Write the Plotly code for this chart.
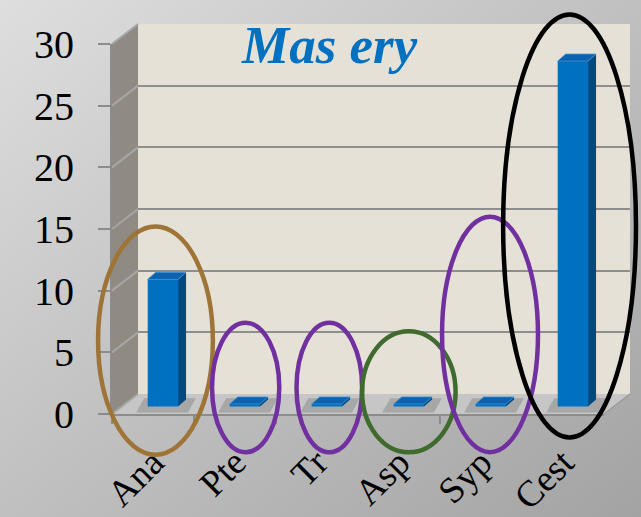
import base64
import plotly.graph_objects as go

# ---- data -------------------------------------------------------------
categories = ["Ana", "Pte", "Tr", "Asp", "Syp", "Cest"]
values = [10.3, 0.2, 0.2, 0.2, 0.2, 28.0]
y_ticks = [0, 5, 10, 15, 20, 25, 30]
title_text = "Mas ery"

# hand-drawn rings: (category index, half width in categories, top value, bottom value, colour)
rings = [
    (0.03, 0.70, 15.2, -3.3, "#9e7437"),
    (1.13, 0.41, 7.4, -3.1, "#7030a0"),
    (2.15, 0.40, 7.4, -3.1, "#7030a0"),
    (3.12, 0.57, 6.7, -3.1, "#3f6b2f"),
    (4.11, 0.585, 16.0, -3.1, "#7030a0"),
    (5.08, 0.81, 32.4, -1.9, "#000000"),
]

# ---- geometry (pixels) ------------------------------------------------
W, H = 641, 517
FX0, FX1 = 112, 604          # front edge of the floor
FY0, FY1 = 414, 44           # pixel rows of 0 and 30 on the front plane
YMAX = 30
DX, DY = 26, 20              # depth of the box (right, up)
BAR_F = 0.38                 # bars stand this far into the box
BAR_W = 0.37                 # bar width in categories
FACE_DX, FACE_DY = 8, 7      # depth of each bar (pixels)

n = len(categories)
step = (FX1 - FX0) / n
ppu = (FY0 - FY1) / YMAX


def px(x):
    return x / W


def py(y):
    return (H - y) / H


def cat_px(t, depth=0.0):
    return FX0 + (t + 0.5) * step + depth * DX


def val_py(v, depth=0.0):
    return FY0 - v * ppu - depth * DY


def poly(points):
    return "M " + " L ".join(f"{a},{b}" for a, b in points) + " Z"


# ---- background gradient ---------------------------------------------
svg = (
    f'<svg xmlns="http://www.w3.org/2000/svg" width="{W}" height="{H}">'
    '<defs><linearGradient id="g" x1="0" y1="0" x2="1" y2="1">'
    '<stop offset="0" stop-color="#dedede"/>'
    '<stop offset="0.5" stop-color="#c0c0c0"/>'
    '<stop offset="1" stop-color="#a3a3a3"/>'
    '</linearGradient></defs>'
    f'<rect width="{W}" height="{H}" fill="url(#g)"/></svg>'
)
bg_src = "data:image/svg+xml;base64," + base64.b64encode(svg.encode()).decode()

fig = go.Figure()

# front plane: carries the axis labels
fig.add_trace(go.Scatter(
    x=categories, y=values, mode="markers", marker=dict(opacity=0),
    hoverinfo="skip", showlegend=False, xaxis="x", yaxis="y"))
# back wall: carries the gridlines
fig.add_trace(go.Scatter(
    x=[0], y=[0], mode="markers", marker=dict(opacity=0),
    hoverinfo="skip", showlegend=False, xaxis="x2", yaxis="y2"))
# bars
bar_x = list(range(n))
fig.add_trace(go.Bar(
    x=bar_x, y=values, width=BAR_W, xaxis="x3", yaxis="y3",
    marker=dict(color="#0070c0", line=dict(width=0)),
    showlegend=False, hoverinfo="skip"))

shapes = []

# back wall
shapes.append(dict(
    type="rect", xref="paper", yref="paper", layer="below",
    x0=px(FX0 + DX), x1=px(FX1 + DX), y0=py(FY0 - DY), y1=py(FY1 - DY),
    fillcolor="#e6e1d7", line=dict(width=0)))
# left wall
shapes.append(dict(
    type="path", xref="paper", yref="paper", layer="below",
    path=poly([(px(FX0), py(FY0)), (px(FX0), py(FY1)),
               (px(FX0 + DX), py(FY1 - DY)), (px(FX0 + DX), py(FY0 - DY))]),
    fillcolor="#8f8b82", line=dict(width=0)))
# floor
shapes.append(dict(
    type="path", xref="paper", yref="paper", layer="below",
    path=poly([(px(FX0), py(FY0)), (px(FX1), py(FY0)),
               (px(FX1 + DX), py(FY0 - DY)), (px(FX0 + DX), py(FY0 - DY))]),
    fillcolor="#c6c6c6", line=dict(width=0)))
shapes.append(dict(
    type="line", xref="paper", yref="paper", layer="below",
    x0=px(FX1), y0=py(FY0), x1=px(FX1 + DX), y1=py(FY0 - DY),
    line=dict(color="#9a9a9a", width=1.5)))
# gridlines running across the left wall
for v in y_ticks:
    shapes.append(dict(
        type="line", xref="paper", yref="paper", layer="below",
        x0=px(FX0), y0=py(val_py(v)), x1=px(FX0 + DX), y1=py(val_py(v, 1)),
        line=dict(color="#a6a6a6", width=2)))

# bar shadows, side and top faces (in bar-plane data units)
fdx = FACE_DX / step
fdy = FACE_DY / ppu
hw = BAR_W / 2
for i, v in enumerate(values):
    shapes.append(dict(
        type="path", xref="x3", yref="y3", layer="below",
        path=poly([(i - hw - 0.14, -0.5), (i + hw + 0.12, -0.5),
                   (i + hw + 0.12 + fdx, fdy + 0.1), (i - hw - 0.14 + fdx, fdy + 0.1)]),
        fillcolor="#808080", opacity=0.45, line=dict(width=0)))
    shapes.append(dict(
        type="path", xref="x3", yref="y3", layer="above",
        path=poly([(i + hw, 0), (i + hw + fdx, fdy),
                   (i + hw + fdx, v + fdy), (i + hw, v)]),
        fillcolor="#004a80", line=dict(width=0)))
    shapes.append(dict(
        type="path", xref="x3", yref="y3", layer="above",
        path=poly([(i - hw, v), (i + hw, v),
                   (i + hw + fdx, v + fdy), (i - hw + fdx, v + fdy)]),
        fillcolor="#0c62ac", line=dict(color="#3d8fd6", width=0.8)))

# rings around the categories
for c, half, top, bottom, col in rings:
    shapes.append(dict(
        type="circle", xref="paper", yref="paper", layer="above",
        x0=px(cat_px(c - half)), x1=px(cat_px(c + half)),
        y0=py(val_py(bottom)), y1=py(val_py(top)),
        line=dict(color=col, width=4.5), fillcolor="rgba(0,0,0,0)"))

serif = "Liberation Serif"
bar_dx = BAR_F * DX
bar_dy = BAR_F * DY

fig.update_layout(
    width=W, height=H, autosize=False,
    margin=dict(l=0, r=0, t=0, b=0, pad=0, autoexpand=False),
    paper_bgcolor="#c0c0c0", plot_bgcolor="rgba(0,0,0,0)",
    showlegend=False,
    images=[dict(source=bg_src, xref="paper", yref="paper", x=0, y=1,
                 sizex=1, sizey=1, sizing="stretch", xanchor="left",
                 yanchor="top", layer="below")],
    shapes=shapes,
    xaxis=dict(
        domain=[px(FX0), px(FX1)], type="category",
        categoryorder="array", categoryarray=categories,
        range=[-0.5, n - 0.5], anchor="y", automargin=False,
        showline=True, linecolor="#8c8c8c", linewidth=2,
        ticks="outside", tickson="boundaries", ticklen=8,
        tickcolor="#8c8c8c", tickwidth=2,
        tickangle=-45, tickfont=dict(family=serif, size=37, color="black"),
        ticklabelstandoff=10,
        showgrid=False, zeroline=False, fixedrange=True),
    yaxis=dict(
        domain=[py(FY0), py(FY1)], range=[0, YMAX], anchor="x",
        automargin=False,
        tickvals=y_ticks, ticks="outside", ticklen=12,
        tickcolor="#8c8c8c", tickwidth=2,
        showline=True, linecolor="#8c8c8c", linewidth=2,
        tickfont=dict(family=serif, size=40, color="black"),
        ticklabelstandoff=16,
        showgrid=False, zeroline=False, fixedrange=True),
    xaxis2=dict(
        domain=[px(FX0 + DX), px(FX1 + DX)], range=[-0.5, n - 0.5],
        anchor="y2", showgrid=False, showticklabels=False, showline=False,
        zeroline=False, ticks="", automargin=False),
    yaxis2=dict(
        domain=[py(FY0 - DY), py(FY1 - DY)], range=[0, YMAX], anchor="x2",
        tickvals=y_ticks, showgrid=True, gridcolor="#8e8e8e", gridwidth=2,
        showticklabels=False, showline=False, zeroline=False, ticks="",
        automargin=False),
    xaxis3=dict(
        domain=[px(FX0 + bar_dx), px(FX1 + bar_dx)], range=[-0.5, n - 0.5],
        anchor="y3", visible=False),
    yaxis3=dict(
        domain=[py(FY0 - bar_dy + ppu), py(FY1 - bar_dy)], range=[-1, YMAX],
        anchor="x3", visible=False),
    annotations=[dict(
        text=f"<b><i>{title_text}</i></b>", xref="paper", yref="paper",
        x=px(329), y=py(45), xanchor="center", yanchor="middle",
        showarrow=False, font=dict(family=serif, size=53, color="#0070c0"))],
)

fig.write_html("out.html")
